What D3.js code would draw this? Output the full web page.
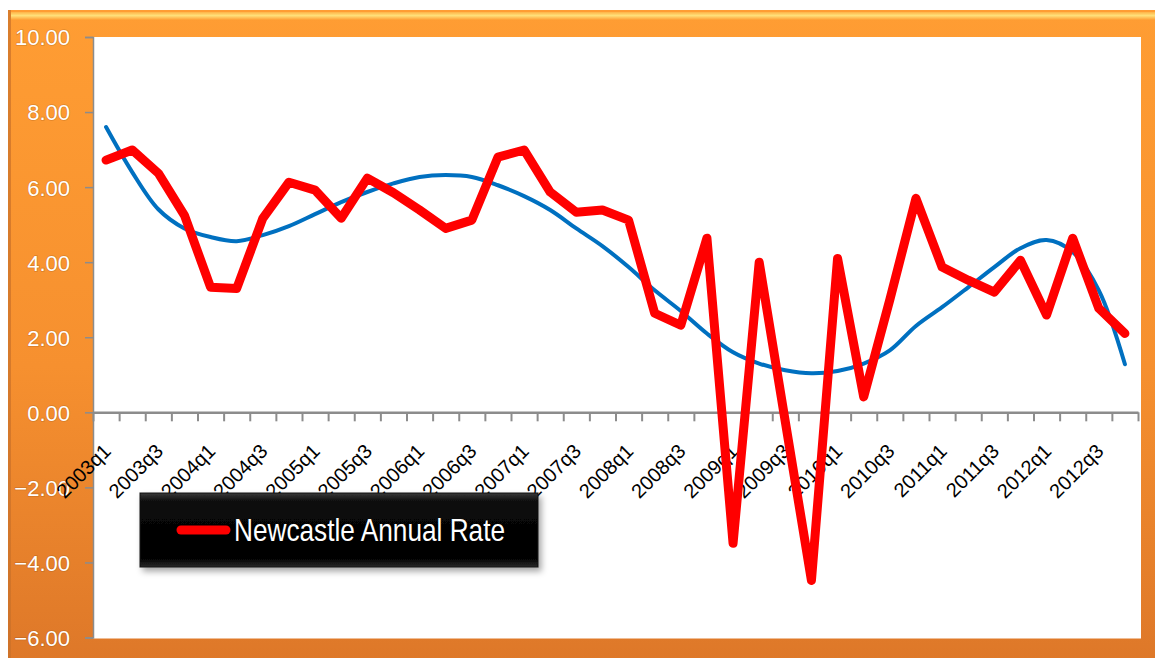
<!DOCTYPE html>
<html lang="en">
<head>
  <meta charset="UTF-8">
  <title>Newcastle Annual Rate</title>
  <script src="https://cdnjs.cloudflare.com/ajax/libs/d3/7.8.5/d3.min.js"></script>
  <style>
    body { margin: 0; background: #fff; }
    svg { display: block; }
    .y-axis text { fill: #fff; font-family: "Liberation Sans", Arial, sans-serif; font-size: 22px; }
    .x-label { fill: #000; font-family: "Liberation Sans", Arial, sans-serif; font-size: 20px; }
  </style>
</head>
<body>
<div id="chart"></div>
<script>
// quarterly categories on the x axis
var quarters = [
  "2003q1", "2003q2", "2003q3", "2003q4", "2004q1", "2004q2", "2004q3", "2004q4",
  "2005q1", "2005q2", "2005q3", "2005q4", "2006q1", "2006q2", "2006q3", "2006q4",
  "2007q1", "2007q2", "2007q3", "2007q4", "2008q1", "2008q2", "2008q3", "2008q4",
  "2009q1", "2009q2", "2009q3", "2009q4", "2010q1", "2010q2", "2010q3", "2010q4",
  "2011q1", "2011q2", "2011q3", "2011q4", "2012q1", "2012q2", "2012q3", "2012q4"
];

// Newcastle annual rate (red series)
var newcastleRate = [
  6.72, 6.99, 6.37, 5.25, 3.33, 3.30, 5.17, 6.13,
  5.92, 5.17, 6.24, 5.85, 5.39, 4.90, 5.12, 6.80,
  6.99, 5.87, 5.33, 5.39, 5.12, 2.64, 2.32, 4.64,
  -3.49, 4.00, -0.25, -4.48, 4.10, 0.41, 3.00, 5.70,
  3.87, 3.52, 3.20, 4.05, 2.59, 4.64, 2.77, 2.10
];

// trend line (blue)
var trendValues = [
  7.60, 6.40, 5.41, 4.90, 4.67, 4.56, 4.72, 4.96,
  5.28, 5.60, 5.87, 6.10, 6.27, 6.32, 6.27, 6.05,
  5.76, 5.39, 4.90, 4.43, 3.87, 3.25, 2.70, 2.10,
  1.60, 1.30, 1.12, 1.04, 1.10, 1.30, 1.65, 2.30,
  2.80, 3.33, 3.87, 4.37, 4.59, 4.27, 3.25, 1.28
];

var yTicks = [-6, -4, -2, 0, 2, 4, 6, 8, 10];
var legendLabel = "Newcastle Annual Rate";

var svgWidth = 1155;
var svgHeight = 658;

var plot = { left: 93, right: 1138, top: 37, bottom: 637.5 };

var svg = d3.select("#chart")
  .append("svg")
  .attr("width", svgWidth)
  .attr("height", svgHeight);

var defs = svg.append("defs");

var frameGrad = defs.append("linearGradient")
  .attr("id", "frameGrad")
  .attr("x1", 0).attr("y1", 0).attr("x2", 0).attr("y2", 1);
frameGrad.append("stop").attr("offset", "0%").attr("stop-color", "#ff9d33");
frameGrad.append("stop").attr("offset", "55%").attr("stop-color", "#f6902f");
frameGrad.append("stop").attr("offset", "100%").attr("stop-color", "#de7829");

var bevelGrad = defs.append("linearGradient")
  .attr("id", "bevelGrad")
  .attr("x1", 0).attr("y1", 0).attr("x2", 0).attr("y2", 1);
bevelGrad.append("stop").attr("offset", "0%").attr("stop-color", "#ffb347");
bevelGrad.append("stop").attr("offset", "45%").attr("stop-color", "#ffe07a");
bevelGrad.append("stop").attr("offset", "100%").attr("stop-color", "#ff9d33");

var legendGrad = defs.append("linearGradient")
  .attr("id", "legendGrad")
  .attr("x1", 0).attr("y1", 0).attr("x2", 0).attr("y2", 1);
legendGrad.append("stop").attr("offset", "0%").attr("stop-color", "#3a3a3a");
legendGrad.append("stop").attr("offset", "12%").attr("stop-color", "#0a0a0a");
legendGrad.append("stop").attr("offset", "88%").attr("stop-color", "#000");
legendGrad.append("stop").attr("offset", "100%").attr("stop-color", "#2a2a2a");

var shadow = defs.append("filter").attr("id", "shadow")
  .attr("x", "-10%").attr("y", "-20%").attr("width", "125%").attr("height", "160%");
shadow.append("feDropShadow")
  .attr("dx", 3).attr("dy", 4).attr("stdDeviation", 3)
  .attr("flood-color", "#000").attr("flood-opacity", 0.35);

// orange frame
svg.append("rect")
  .attr("x", 8).attr("y", 10)
  .attr("width", svgWidth - 8).attr("height", svgHeight - 10)
  .attr("fill", "url(#frameGrad)");
svg.append("rect")
  .attr("x", 11).attr("y", 12)
  .attr("width", svgWidth - 11).attr("height", 8)
  .attr("fill", "url(#bevelGrad)");
svg.append("rect")
  .attr("x", 8).attr("y", 10)
  .attr("width", 3).attr("height", svgHeight - 10)
  .attr("fill", "#c9702a").attr("opacity", 0.7);

// white plot area
svg.append("rect")
  .attr("x", plot.left).attr("y", plot.top)
  .attr("width", 1141 - plot.left).attr("height", plot.bottom - plot.top + 1)
  .attr("fill", "#fff");

// scales
var xScale = d3.scaleBand()
  .domain(quarters)
  .range([plot.left, plot.right]);

var yScale = d3.scaleLinear()
  .domain([-6, 10])
  .range([plot.bottom, plot.top]);

var xCenter = d => xScale(d) + xScale.bandwidth() / 2;

// y axis
var leftAxis = d3.axisLeft(yScale)
  .tickValues(yTicks)
  .tickFormat(d3.format(".2f"))
  .tickSize(8)
  .tickPadding(15);

var yAxis = svg.append("g")
  .classed("y-axis", true)
  .attr("transform", `translate(${plot.left}, 0)`)
  .call(leftAxis);
yAxis.select(".domain").attr("stroke", "#8c8c8c").attr("stroke-width", 1.5);
yAxis.selectAll(".tick line").attr("stroke", "#8c8c8c").attr("stroke-width", 1.5);
yAxis.selectAll("text")
  .attr("dy", "0.36em")
  .style("paint-order", "stroke")
  .style("stroke", "rgba(120,60,10,0.25)")
  .style("stroke-width", "1.5px");

// x axis: ticks between categories
var edgeScale = d3.scaleLinear()
  .domain([0, quarters.length])
  .range([plot.left, plot.right]);

var bottomAxis = d3.axisBottom(edgeScale)
  .tickValues(d3.range(0, quarters.length + 1))
  .tickFormat("")
  .tickSize(9)
  .tickSizeOuter(0);

var xAxis = svg.append("g")
  .attr("transform", `translate(0, ${yScale(0)})`)
  .call(bottomAxis);
xAxis.select(".domain").attr("stroke", "#8c8c8c").attr("stroke-width", 2.5);
xAxis.selectAll(".tick line").attr("stroke", "#8c8c8c").attr("stroke-width", 2);

// category labels, every other quarter, rotated
svg.append("g")
  .selectAll("text")
  .data(quarters.filter((q, i) => i % 2 === 0))
  .enter()
  .append("text")
  .classed("x-label", true)
  .attr("text-anchor", "end")
  .attr("transform", d => `translate(${xCenter(d) + 6}, ${yScale(0) + 40}) rotate(-45)`)
  .text(d => d);

// trend line (blue)
var trendLine = d3.line()
  .x((d, i) => xCenter(quarters[i]))
  .y(d => yScale(d))
  .curve(d3.curveCatmullRom.alpha(0.5));

svg.append("path")
  .datum(trendValues)
  .attr("fill", "none")
  .attr("stroke", "#0070c0")
  .attr("stroke-width", 4)
  .attr("stroke-linecap", "round")
  .attr("d", trendLine);

// Newcastle series (red)
var rateLine = d3.line()
  .x((d, i) => xCenter(quarters[i]))
  .y(d => yScale(d));

svg.append("path")
  .datum(newcastleRate)
  .attr("fill", "none")
  .attr("stroke", "#ff0000")
  .attr("stroke-width", 9)
  .attr("stroke-linejoin", "round")
  .attr("stroke-linecap", "round")
  .attr("d", rateLine);

// legend
var legend = svg.append("g").attr("transform", "translate(140, 493)");
legend.append("rect")
  .attr("width", 398).attr("height", 74)
  .attr("fill", "url(#legendGrad)")
  .attr("stroke", "#111")
  .attr("filter", "url(#shadow)");
legend.append("line")
  .attr("x1", 41).attr("x2", 86)
  .attr("y1", 37).attr("y2", 37)
  .attr("stroke", "#ff0000")
  .attr("stroke-width", 9)
  .attr("stroke-linecap", "round");
legend.append("text")
  .attr("x", 94).attr("y", 48)
  .attr("fill", "#fff")
  .attr("font-family", "'Liberation Sans Narrow', 'Liberation Sans', Arial, sans-serif")
  .attr("font-size", 32)
  .attr("textLength", 271)
  .attr("lengthAdjust", "spacingAndGlyphs")
  .text(legendLabel);
</script>
</body>
</html>
